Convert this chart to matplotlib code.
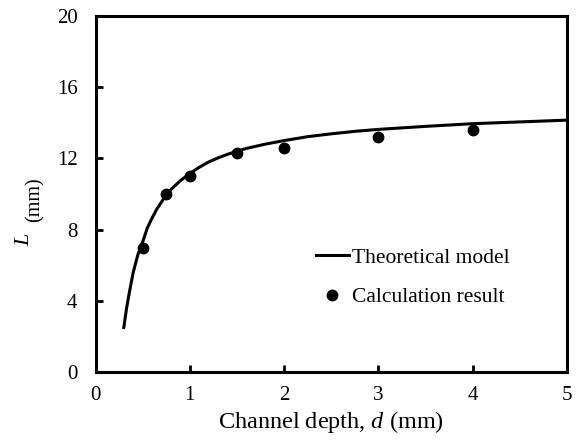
import matplotlib.pyplot as plt
import numpy as np

# theoretical model curve
d_model = [0.30, 0.33, 0.36, 0.40, 0.45, 0.50, 0.55, 0.60, 0.65, 0.70, 0.75, 0.80,
           0.90, 1.0, 1.1, 1.2, 1.3, 1.4, 1.5, 1.6, 1.8, 2.0, 2.25, 2.5, 2.75,
           3.0, 3.5, 4.0, 4.5, 5.0]
L_model = [2.5, 3.6, 4.5, 5.6, 6.6, 7.3, 8.1, 8.65, 9.15, 9.55, 9.95, 10.25,
           10.75, 11.15, 11.5, 11.8, 12.03, 12.23, 12.4, 12.56, 12.8, 13.0, 13.22, 13.38, 13.52,
           13.63, 13.8, 13.95, 14.05, 14.15]

# calculation results
d_calc = [0.5, 0.75, 1.0, 1.5, 2.0, 3.0, 4.0]
L_calc = [6.95, 10.0, 11.0, 12.3, 12.6, 13.2, 13.6]

plt.rcParams['font.family'] = 'Liberation Serif'
plt.rcParams['mathtext.fontset'] = 'custom'
plt.rcParams['mathtext.it'] = 'Liberation Serif:italic'
plt.rcParams['mathtext.rm'] = 'Liberation Serif'

fig = plt.figure(figsize=(5.78, 4.46), dpi=100)
ax = fig.add_axes([95.5 / 578, 1 - 372 / 446, (567 - 95.5) / 578, (372 - 16) / 446])

ax.plot(d_model, L_model, color='black', linewidth=2.2, label='Theoretical model')
ax.plot(d_calc, L_calc, 'o', color='black', markersize=7.5, label='Calculation result')

ax.set_xlim(0, 5)
ax.set_ylim(0, 20)
ax.set_xticks(range(0, 6))
ax.set_yticks(range(0, 21, 4))
ax.tick_params(direction='in', length=5, width=2, labelsize=15,
               top=False, right=False)
ax.tick_params(axis='x', pad=10)
ax.tick_params(axis='y', pad=13)
for s in ax.spines.values():
    s.set_linewidth(2.2)

ax.set_xlabel('Channel depth, $d$ (mm)', fontsize=17.5, labelpad=3)

# y label drawn as two pieces like the original
fig.text(25 / 578, 1 - 239 / 446, '$L$', rotation=90, fontsize=16,
         ha='center', va='center')
fig.text(35 / 578, 1 - 200 / 446, '(mm)', rotation=90, fontsize=14.5,
         ha='center', va='center')

ax.legend(loc='upper left', bbox_to_anchor=(0.45, 0.373), frameon=False,
          fontsize=15.5, handlelength=1.5, handletextpad=0.15,
          borderaxespad=0, labelspacing=0.9)

fig.savefig('out.png', dpi=100)
